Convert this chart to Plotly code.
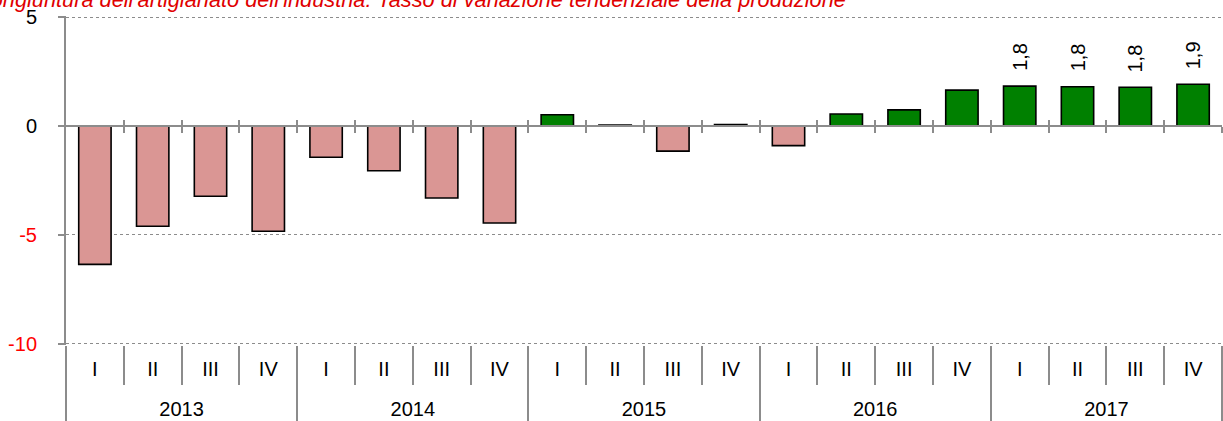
import plotly.graph_objects as go

years = ["2013", "2014", "2015", "2016", "2017"]
quarters = ["I", "II", "III", "IV"]
values = [-6.35, -4.6, -3.22, -4.83,
          -1.43, -2.05, -3.3, -4.45,
          0.52, 0.05, -1.15, 0.07,
          -0.9, 0.55, 0.74, 1.65,
          1.83, 1.8, 1.78, 1.92]
labelled_years = ["2017"]
title_text = "Congiuntura dell'artigianato dell'industria: Tasso di variazione tendenziale della produzione"
y_ticks = [-10, -5, 0, 5]

POS = "#008000"
NEG = "#DA9694"
GRID = "#8c8c8c"
AX = "#8c8c8c"
FONT = "Liberation Sans, Arial, sans-serif"
FS = 20

n = len(values)
xs = list(range(n))
q_labels = [quarters[i % 4] for i in range(n)]
y_of = [years[i // 4] for i in range(n)]
colors = [POS if v >= 0 else NEG for v in values]

rng = [-0.5, n - 0.5]
bounds = [i - 0.5 for i in range(n + 1)]
year_bounds = [i * 4 - 0.5 for i in range(len(years) + 1)]
year_centers = [i * 4 + 1.5 for i in range(len(years))]
y_lo, y_hi = -10.05, 5.05
zero_pos = (0 - y_lo) / (y_hi - y_lo)

fig = go.Figure()
fig.add_trace(go.Bar(
    x=xs, y=values, marker=dict(color=colors, line=dict(color="black", width=1.6)),
    width=0.56, showlegend=False, hoverinfo="skip"))

# invisible helper traces so that the overlay axes get drawn
for k in range(2, 7):
    fig.add_trace(go.Scatter(x=rng, y=[0, 0], xaxis=f"x{k}", yaxis="y", mode="markers",
                             marker=dict(opacity=0, size=1), showlegend=False, hoverinfo="skip"))

# data labels (rotated) for labelled years
for i, v in enumerate(values):
    if y_of[i] in labelled_years:
        fig.add_annotation(x=i, y=v, xref="x", yref="y", text=f"{v:.1f}".replace(".", ","),
                           textangle=-90, showarrow=False, yanchor="bottom", yshift=13,
                           font=dict(family=FONT, size=FS, color="black"))

# title (partially cut at top-left, like the reference)
fig.add_annotation(x=(-27 - 66) / 1156, y=1, xref="paper", yref="paper",
                   xanchor="left", yanchor="bottom", yshift=2, text="<i>" + title_text + "</i>",
                   showarrow=False, font=dict(family=FONT, size=21.75, color="#E00000"))

y_ticktext = [(f"<span style='color:#FF0000'>{t}</span>" if t < 0 else str(t)) for t in y_ticks]

fig.update_layout(
    width=1223, height=421,
    margin=dict(l=66, r=1, t=16, b=76, autoexpand=False),
    paper_bgcolor="white", plot_bgcolor="white",
    yaxis=dict(range=[y_lo, y_hi], tickvals=y_ticks, ticktext=y_ticktext,
               showgrid=True, gridcolor=GRID, griddash="dot", gridwidth=1,
               zeroline=False, showline=True, linecolor=AX, linewidth=2,
               ticks="outside", ticklen=6, tickcolor=AX, tickwidth=1.5,
               ticklabelstandoff=17, automargin=False,
               tickfont=dict(family=FONT, size=FS, color="black")),
    # quarter labels
    xaxis=dict(range=rng, tickvals=xs, ticktext=q_labels, showgrid=False, zeroline=False,
               showline=False, ticks="", ticklabelstandoff=10, automargin=False,
               tickfont=dict(family=FONT, size=FS, color="black")),
    # quarter separators
    xaxis2=dict(range=rng, overlaying="x", anchor="y", side="bottom", tickvals=bounds,
                showticklabels=False, ticks="outside", ticklen=39, tickcolor=AX, tickwidth=1.5,
                showgrid=False, zeroline=False, showline=False, automargin=False),
    # year separators
    xaxis3=dict(range=rng, overlaying="x", anchor="y", side="bottom", tickvals=year_bounds,
                showticklabels=False, ticks="outside", ticklen=80, tickcolor=AX, tickwidth=1.5,
                showgrid=False, zeroline=False, showline=False, automargin=False),
    # year labels
    xaxis4=dict(range=rng, overlaying="x", anchor="y", side="bottom", tickvals=year_centers,
                ticktext=years, ticks="", ticklabelstandoff=50, showgrid=False, zeroline=False,
                showline=False, automargin=False,
                tickfont=dict(family=FONT, size=FS, color="black")),
    # zero line with crossing ticks
    xaxis5=dict(range=rng, overlaying="x", anchor="free", position=zero_pos, side="bottom",
                tickvals=bounds[1:], showticklabels=False, ticks="outside", ticklen=6,
                tickcolor=AX, tickwidth=1.5, showline=True, linecolor=AX, linewidth=2,
                showgrid=False, zeroline=False, automargin=False),
    xaxis6=dict(range=rng, overlaying="x", anchor="free", position=zero_pos, side="bottom",
                tickvals=bounds[1:], showticklabels=False, ticks="inside", ticklen=6,
                tickcolor=AX, tickwidth=1.5, showline=False, showgrid=False, zeroline=False,
                automargin=False),
)

fig.write_html("out.html", config={"displayModeBar": False},
               post_script="document.body.style.margin='0';document.body.style.overflow='hidden';")
